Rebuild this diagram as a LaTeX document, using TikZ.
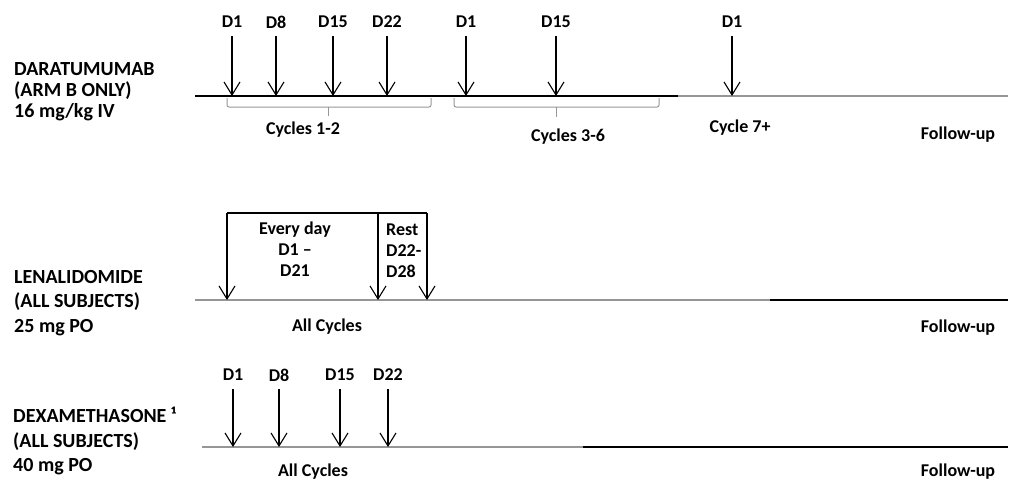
\documentclass[tikz,border=0pt]{standalone}
\usepackage{fontspec}
\setmainfont{Carlito}
\usetikzlibrary{arrows.meta, positioning}
\definecolor{linegray}{RGB}{150,150,150}

\begin{document}
\begin{tikzpicture}[x=1pt, y=-1pt,
    drug/.style={anchor=west, align=left, inner sep=0pt, font=\fontsize{20}{24.5}\selectfont\bfseries},
    day/.style={inner sep=0pt, font=\fontsize{18}{20}\selectfont\bfseries},
    note/.style={inner sep=0pt, align=center, font=\fontsize{18}{21}\selectfont\bfseries},
    dose/.style={-{Straight Barb[length=13pt,width=16pt]}, line width=1.1pt, shorten <=8pt},
    axis/.style={line width=1.3pt},
    brace/.style={draw=linegray, line width=1pt, rounded corners=2pt}]

    \useasboundingbox (0,0) rectangle (1011,480);

    % daratumumab
    \node[drug, font=\fontsize{20}{21}\selectfont\bfseries] (dara) at (14,92)
        {DARATUMUMAB\\(ARM B ONLY)\\16 mg/kg IV};
    \coordinate (darastart) at (195,96);
    \coordinate (darasplit) at (678,96);
    \coordinate (daraend) at (1008,96);
    \draw[axis] (darastart) -- (darasplit);
    \draw[axis, linegray] (darasplit) -- (daraend);

    \node[day] (dara1) at (232,22) {D1};
    \node[day] (dara8) at (276,22) {D8};
    \node[day] (dara15) at (333,22) {D15};
    \node[day] (dara22) at (387,22) {D22};
    \node[day] (darab1) at (466,22) {D1};
    \node[day] (darab15) at (556,22) {D15};
    \node[day] (darac1) at (732,22) {D1};
    \draw[dose] (dara1) -- (dara1 |- darastart);
    \draw[dose] (dara8) -- (dara8 |- darastart);
    \draw[dose] (dara15) -- (dara15 |- darastart);
    \draw[dose] (dara22) -- (dara22 |- darastart);
    \draw[dose] (darab1) -- (darab1 |- darastart);
    \draw[dose] (darab15) -- (darab15 |- darastart);
    \draw[dose] (darac1) -- (darac1 |- darastart);

    \draw[brace] (227,98) -- (227,107) -- (431,107) -- (431,98);
    \draw[brace] (328,107) -- (328,116);
    \draw[brace] (454,98) -- (454,107) -- (659,107) -- (659,98);
    \draw[brace] (556,107) -- (556,117);

    \node[note] (cyc12) at (303,130) {Cycles 1-2};
    \node[note] (cyc36) at (568,137) {Cycles 3-6};
    \node[note] (cyc7) at (740,128) {Cycle 7+};
    \node[note] (darafu) at (958,135) {Follow-up};

    % lenalidomide
    \node[drug] (lena) at (14,303) {LENALIDOMIDE\\(ALL SUBJECTS)\\25 mg PO};
    \coordinate (lenastart) at (195,300);
    \coordinate (lenasplit) at (770,300);
    \coordinate (lenaend) at (1008,300);
    \draw[axis, linegray] (lenastart) -- (lenasplit);
    \draw[axis] (lenasplit) -- (lenaend);

    \coordinate (lenatop1) at (227,213);
    \coordinate (lenatop2) at (378,213);
    \coordinate (lenatop3) at (427,213);
    \draw[line width=1.1pt] (lenatop1) -- (lenatop3);
    \draw[dose, shorten <=0pt] (lenatop1) -- (lenatop1 |- lenastart);
    \draw[dose, shorten <=0pt] (lenatop2) -- (lenatop2 |- lenastart);
    \draw[dose, shorten <=0pt] (lenatop3) -- (lenatop3 |- lenastart);

    \node[note] (daily) at (295,249) {Every day\\D1 --\\D21};
    \node[note, anchor=west, align=left] (rest) at (386,251) {Rest\\D22-\\D28};
    \node[note] (lenacyc) at (327,327) {All Cycles};
    \node[note] (lenafu) at (958,328) {Follow-up};

    % dexamethasone
    \node[drug] (dexa) at (13,441) {DEXAMETHASONE ¹\\(ALL SUBJECTS)\\40 mg PO};
    \coordinate (dexastart) at (202,447);
    \coordinate (dexasplit) at (583,447);
    \coordinate (dexaend) at (1008,447);
    \draw[axis, linegray] (dexastart) -- (dexasplit);
    \draw[axis] (dexasplit) -- (dexaend);

    \node[day] (dexa1) at (233,375) {D1};
    \node[day] (dexa8) at (279,375) {D8};
    \node[day] (dexa15) at (340,375) {D15};
    \node[day] (dexa22) at (388,375) {D22};
    \draw[dose] (dexa1) -- (dexa1 |- dexastart);
    \draw[dose] (dexa8) -- (dexa8 |- dexastart);
    \draw[dose] (dexa15) -- (dexa15 |- dexastart);
    \draw[dose] (dexa22) -- (dexa22 |- dexastart);

    \node[note] (dexacyc) at (313,472) {All Cycles};
    \node[note] (dexafu) at (958,472) {Follow-up};
\end{tikzpicture}
\end{document}
